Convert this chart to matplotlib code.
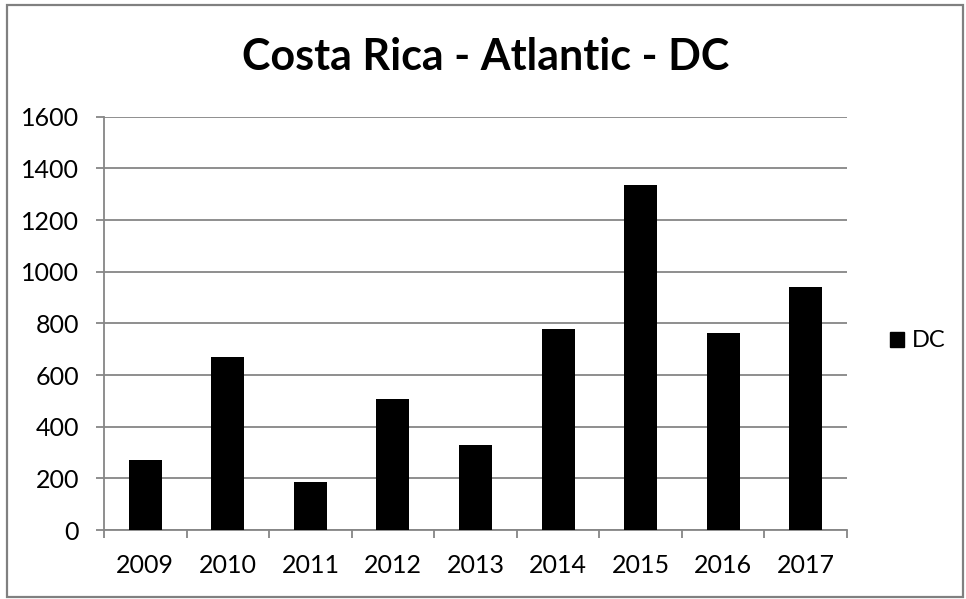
import numpy as np
import matplotlib
matplotlib.use('Agg')
import matplotlib.pyplot as plt
from matplotlib.patches import Rectangle, Patch

years = ['2009', '2010', '2011', '2012', '2013', '2014', '2015', '2016', '2017']
dc_values = [272, 670, 186, 507, 328, 778, 1335, 761, 940]
y_ticks = [0, 200, 400, 600, 800, 1000, 1200, 1400, 1600]

plt.rcParams['font.family'] = ['Lato', 'DejaVu Sans']

W, H = 966, 599
fig = plt.figure(figsize=(W / 100, H / 100), dpi=100)
ax = fig.add_axes([104 / W, 1 - 530 / H, (847 - 104) / W, (530 - 116.7) / H])

grey = '#868686'
x = np.arange(len(years))
ax.bar(x, dc_values, width=0.4, color='black', zorder=3, label='DC')

ax.set_xlim(-0.5, len(years) - 0.5)
ax.set_ylim(0, 1600)
ax.set_yticks(y_ticks)
ax.yaxis.grid(True, color=grey, linewidth=1.3, zorder=0)

ax.set_xticks(x)
ax.set_xticklabels(years)
ax.set_xticks(np.arange(-0.5, len(years)), minor=True)
ax.tick_params(axis='x', which='major', length=0, pad=17, labelsize=18)
ax.tick_params(axis='x', which='minor', length=6, width=1.3, color=grey, direction='out')
ax.tick_params(axis='y', length=6, width=1.3, color=grey, direction='out', pad=12, labelsize=18)

for s in ['top', 'right']:
    ax.spines[s].set_visible(False)
for s in ['left', 'bottom']:
    ax.spines[s].set_color(grey)
    ax.spines[s].set_linewidth(1.3)

fig.text(0.503, 1 - 70 / H, 'Costa Rica - Atlantic - DC', ha='center', va='baseline',
         fontsize=31, fontweight='bold')

fig.legend(handles=[Patch(color='black', label='DC')], loc='center left',
           bbox_to_anchor=(869 / W, 1 - 341 / H), frameon=False, fontsize=17,
           handlelength=0.6, handleheight=0.6, handletextpad=0.3)

fig.patches.append(Rectangle((7 / W, 1 - 597 / H), (963 - 7) / W, (597 - 5) / H,
                             transform=fig.transFigure, fill=False,
                             edgecolor='#808080', linewidth=1.6))

plt.savefig('out.png', dpi=100)
